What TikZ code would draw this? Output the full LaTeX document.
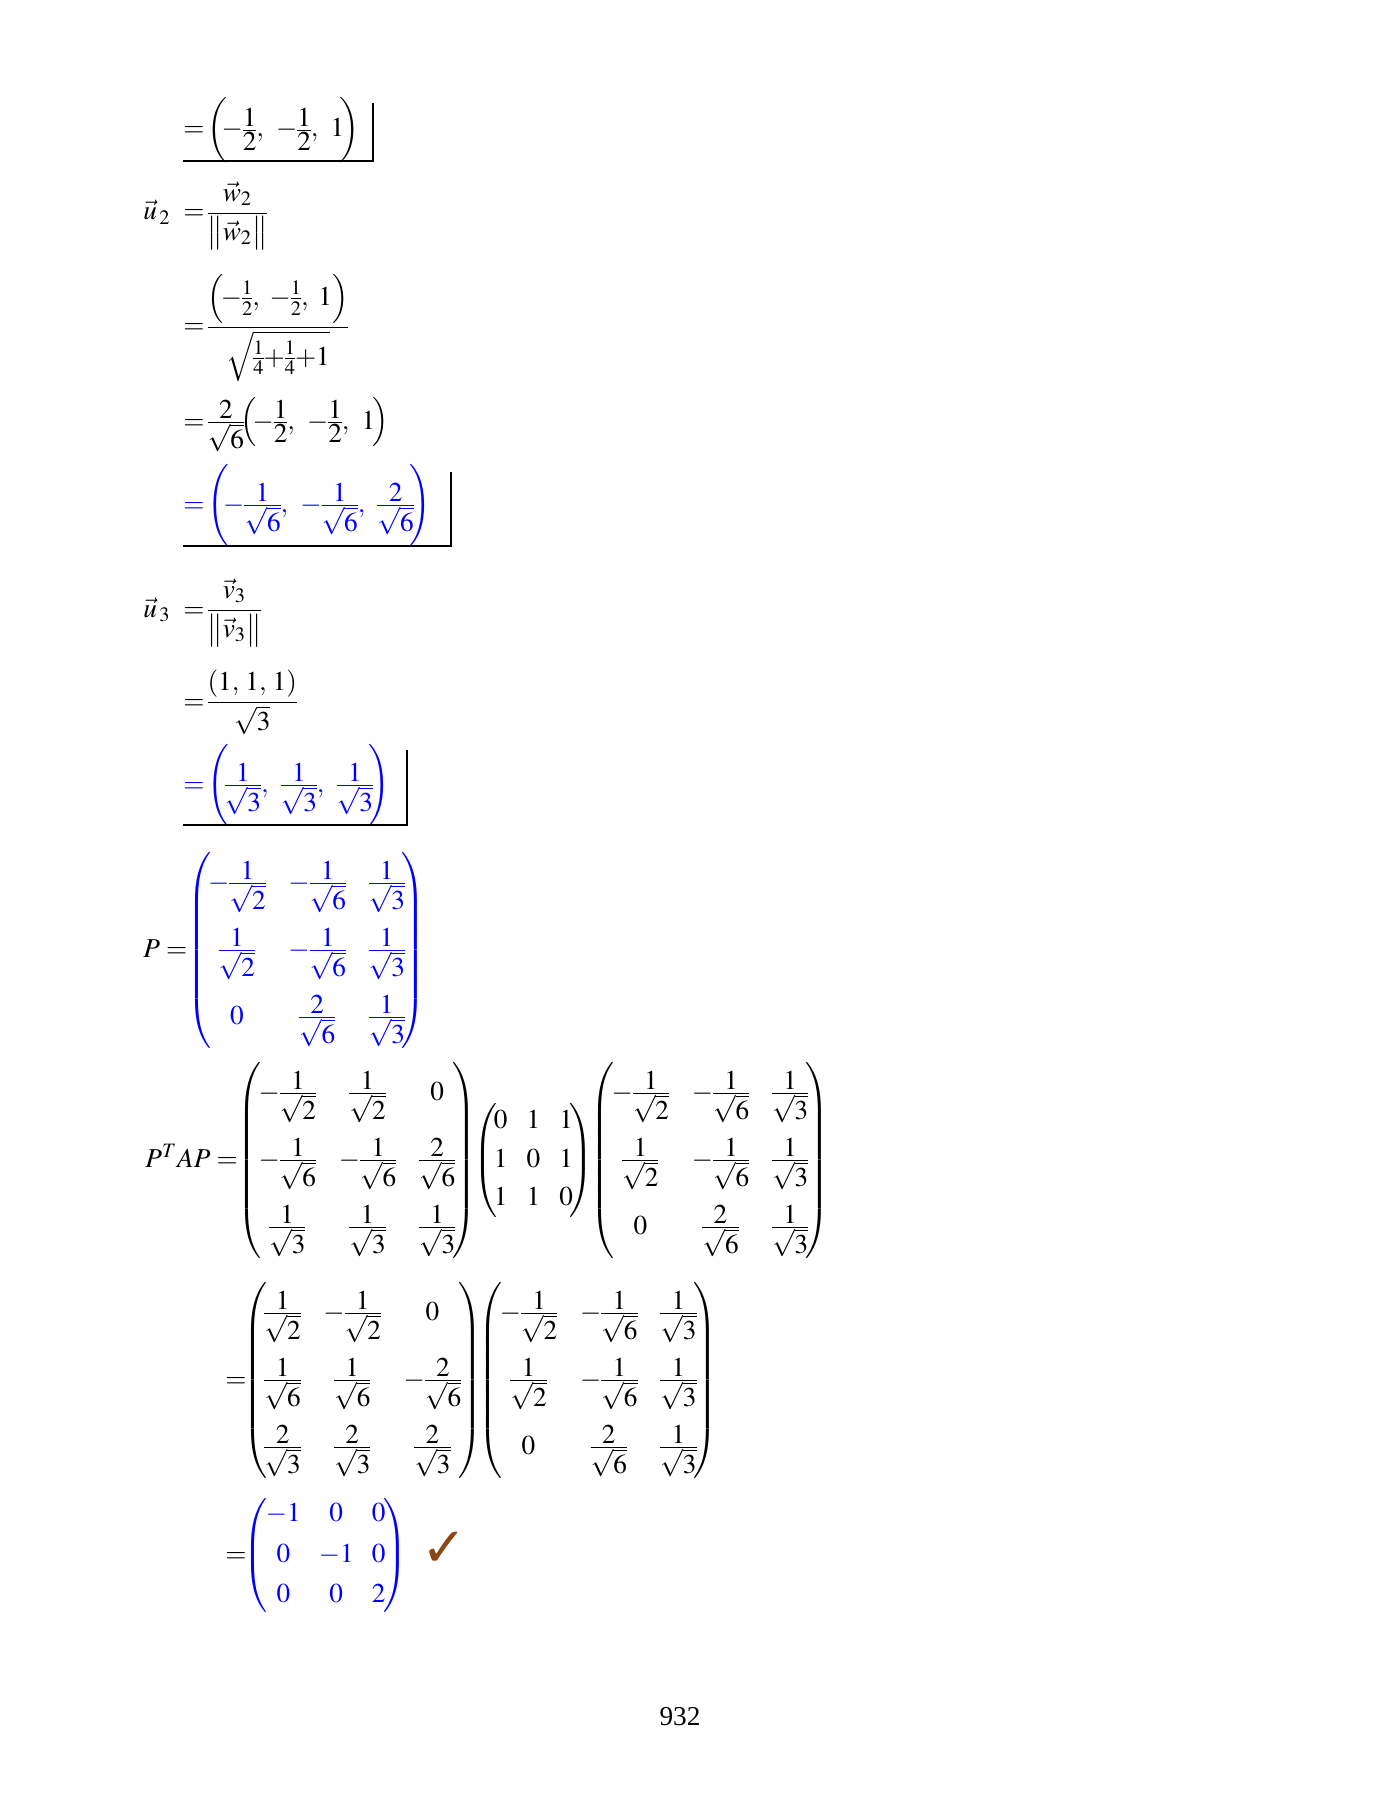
\documentclass[12pt,tikz,border=0pt]{standalone}
\usepackage{amsmath}
\usepackage{mathptmx}
\usepackage[no-math]{fontspec}
\setmainfont{Liberation Serif}
\newfontfamily\checkfont{DejaVu Sans}
\usepackage{xcolor}
\usepackage{tikz}
\usetikzlibrary{positioning}
\definecolor{answerblue}{RGB}{0,0,255}
\definecolor{checkbrown}{RGB}{140,70,20}
\tikzset{
    eqline/.style={
        anchor=base west,
        inner sep=0pt,
        font=\normalsize
    },
    answer/.style={
        eqline,
        text=answerblue
    },
    answerbox/.style={
        draw=black,
        line width=0.6pt
    },
    checkmark/.style={
        inner sep=0pt,
        text=checkbrown,
        font=\checkfont\fontsize{24}{24}\selectfont
    },
    pagenum/.style={
        inner sep=0pt,
        font=\normalsize
    }
}
\setlength{\nulldelimiterspace}{0pt}
\newcommand{\tightfrac}[2]{\genfrac{}{}{}{1}{\textstyle #1}{\textstyle #2}}
\newcommand{\rootfrac}[2]{\tightfrac{#1}{\sqrt{#2}}}
\newcommand{\negrootfrac}[2]{{-}\rootfrac{#1}{#2}}
\newcommand{\neghalf}{{-}\tightfrac{1}{2}}
\newcommand{\eqs}{{=}\mkern2mu}
% row pitch of a matrix, rows centred on the axis
\newcommand{\rowpitch}[1]{\setbox\strutbox\hbox{\vrule height\dimexpr#1/2+\fontdimen22\textfont2\relax depth\dimexpr#1/2-\fontdimen22\textfont2\relax width0pt}\renewcommand{\arraystretch}{1}}
\newcommand{\fracmat}[1]{{\rowpitch{29.5pt}\setlength{\arraycolsep}{5pt}\left(\mkern-2mu\begin{matrix}#1\end{matrix}\mkern-2mu\right)}}
\newcommand{\digitmat}[1]{{\rowpitch{16.8pt}\setlength{\arraycolsep}{4.2pt}\left(\mkern-2mu\begin{matrix}#1\end{matrix}\mkern-2mu\right)}}
\begin{document}
\begin{tikzpicture}[x=0.4403pt, y=-0.4403pt]
\useasboundingbox (0,0) rectangle (1390,1800);
% u2
\node[eqline] (wtwo) at (183,137) {$\eqs\biggl(\mkern-4mu\neghalf,\;\,\neghalf,\;\,1\mkern-3mu\biggr)$};
\draw[answerbox] (183,161) -| (373,103);
\node[eqline] (utwolabel) at (143,220) {$\vec{u}_{\mkern2mu2}$};
\node[eqline] (utwodef) at (183,220) {$\eqs\dfrac{\vec{w}_{2}}{\bigl\|\vec{w}_{2}\bigr\|}$};
\node[eqline] (utwonorm) at (183,334) {$\eqs\dfrac{\Bigl(\mkern-2mu{-}\frac{1}{2},\ {-}\frac{1}{2},\ 1\Bigr)}{\sqrt{\frac{1}{4}{+}\frac{1}{4}{+}1}}$};
\node[eqline] (utwoscale) at (183,429) {$\eqs\rootfrac{2}{6}\mkern-2mu\Bigl(\mkern-3mu\neghalf,\;\,\neghalf,\;\,1\mkern-2mu\Bigr)$};
\node[answer] (utwo) at (183,512) {$\eqs\Biggl(\mkern-4mu\negrootfrac{1}{6},\;\,\negrootfrac{1}{6},\;\,\rootfrac{2}{6}\mkern-3mu\Biggr)$};
\draw[answerbox] (183,546) -| (451,472);
% u3
\node[eqline] (uthreelabel) at (143,617) {$\vec{u}_{\mkern2mu3}$};
\node[eqline] (uthreedef) at (183,617) {$\eqs\dfrac{\vec{v}_{3}}{\bigl\|\vec{v}_{3}\bigr\|}$};
\node[eqline] (uthreenorm) at (183,709) {$\eqs\dfrac{(1,\mkern2mu1,\mkern2mu1)}{\sqrt{3}}$};
\node[answer] (uthree) at (183,792) {$\eqs\Biggl(\mkern-3mu\rootfrac{1}{3},\;\,\rootfrac{1}{3},\;\,\rootfrac{1}{3}\mkern-3mu\Biggr)$};
\draw[answerbox] (183,825) -| (407,750);
% P and check
\node[eqline] (pmat) at (143,957) {$P\;{=}\color{answerblue}\fracmat{\negrootfrac{1}{2} & \negrootfrac{1}{6} & \rootfrac{1}{3}\\ \rootfrac{1}{2} & \negrootfrac{1}{6} & \rootfrac{1}{3}\\ 0 & \rootfrac{2}{6} & \rootfrac{1}{3}}$};
\node[eqline] (ptap) at (145,1167) {$P^{T}AP\;{=}\fracmat{\negrootfrac{1}{2} & \rootfrac{1}{2} & 0\\ \negrootfrac{1}{6} & \negrootfrac{1}{6} & \rootfrac{2}{6}\\ \rootfrac{1}{3} & \rootfrac{1}{3} & \rootfrac{1}{3}}\!\digitmat{0 & 1 & 1\\ 1 & 0 & 1\\ 1 & 1 & 0}\!\fracmat{\negrootfrac{1}{2} & \negrootfrac{1}{6} & \rootfrac{1}{3}\\ \rootfrac{1}{2} & \negrootfrac{1}{6} & \rootfrac{1}{3}\\ 0 & \rootfrac{2}{6} & \rootfrac{1}{3}}$};
\node[eqline] (ptapmid) at (225,1387) {${=}\!\fracmat{\rootfrac{1}{2} & \negrootfrac{1}{2} & 0\\ \rootfrac{1}{6} & \rootfrac{1}{6} & \negrootfrac{2}{6}\\ \rootfrac{2}{3} & \rootfrac{2}{3} & \rootfrac{2}{3}}\!\fracmat{\negrootfrac{1}{2} & \negrootfrac{1}{6} & \rootfrac{1}{3}\\ \rootfrac{1}{2} & \negrootfrac{1}{6} & \rootfrac{1}{3}\\ 0 & \rootfrac{2}{6} & \rootfrac{1}{3}}$};
\node[eqline] (diag) at (225,1562) {${=}\!\color{answerblue}{\rowpitch{18pt}\setlength{\arraycolsep}{4pt}\left(\mkern-1mu\begin{matrix}-1 & 0 & 0\\ 0 & -1 & 0\\ 0 & 0 & 2\end{matrix}\mkern-1mu\right)}$};
\node[checkmark] (check) at (444,1549) {✓};
\node[pagenum] (pageno) at (680,1717) {932};
\end{tikzpicture}
\end{document}
